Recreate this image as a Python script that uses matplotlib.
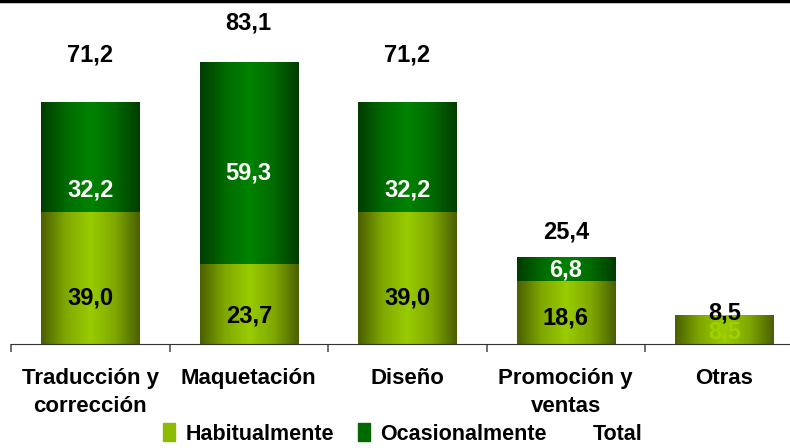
import numpy as np
import matplotlib
matplotlib.use("Agg")
import matplotlib.pyplot as plt
import matplotlib.colors as mcolors
import matplotlib.patches as mpatches
from matplotlib.lines import Line2D

plt.rcParams['font.family'] = ['Liberation Sans Narrow', 'Liberation Sans', 'DejaVu Sans']

categories = ["Traducción y\ncorrección", "Maquetación", "Diseño", "Promoción y\nventas", "Otras"]
habitual = [39.0, 23.7, 39.0, 18.6, 8.5]
ocasional = [32.2, 59.3, 32.2, 6.8, 0.0]
total = [71.2, 83.1, 71.2, 25.4, 8.5]
# label heights (data units), as placed in the original chart
hab_label_y = [13.6, 8.3, 13.6, 7.7, 3.6]
oca_label_y = [45.4, 50.4, 45.4, 21.8, None]
tot_label_y = [85.3, 94.7, 85.3, 33.0, 9.1]

def fmt(v):
    return f"{v:.1f}".replace(".", ",")

hab_cmap = mcolors.LinearSegmentedColormap.from_list("hab", ["#4b5f00", "#7fa800", "#99cc00", "#7fa800", "#4b5f00"])
oca_cmap = mcolors.LinearSegmentedColormap.from_list("oca", ["#003c00", "#006a00", "#008200", "#006a00", "#003c00"])
grad = np.linspace(0, 1, 256).reshape(1, -1)

def gbar(ax, x, bottom, height, width, cmap):
    if height <= 0:
        return
    ax.imshow(grad, extent=[x - width / 2, x + width / 2, bottom, bottom + height],
              aspect="auto", cmap=cmap, interpolation="bilinear", zorder=2)

fig = plt.figure(figsize=(7.9, 4.48), dpi=100)
ax = fig.add_axes([11 / 790, 1 - 344 / 448, 5 * 158.5 / 790, 344 / 448])
x = np.arange(len(categories))
w = 0.62
for i in x:
    gbar(ax, i, 0, habitual[i], w, hab_cmap)
    gbar(ax, i, habitual[i], ocasional[i], w, oca_cmap)

lab_kw = dict(ha="center", va="center", fontsize=17, fontweight="bold", zorder=5)
for i in x:
    col = "#9fd000" if ocasional[i] == 0 else "black"
    ax.text(i, hab_label_y[i], fmt(habitual[i]), color=col, **lab_kw)
    if oca_label_y[i] is not None:
        ax.text(i, oca_label_y[i], fmt(ocasional[i]), color="white", **lab_kw)
    ax.text(i, tot_label_y[i], fmt(total[i]), color="black", **lab_kw)

ax.set_xlim(-0.5, len(categories) - 0.5)
ax.set_ylim(0, 344 / 3.39)
for s in ["top", "right", "left"]:
    ax.spines[s].set_visible(False)
ax.spines["bottom"].set_color("#333333")
ax.set_yticks([])
ax.set_xticks(np.arange(len(categories) + 1) - 0.5)
ax.set_xticklabels([])
ax.set_xticks(x, minor=True)
ax.set_xticklabels(categories, minor=True, fontsize=16, fontweight="bold", linespacing=1.45)
ax.tick_params(axis="x", which="major", length=6, color="#555555", width=1.2)
ax.tick_params(axis="x", which="minor", length=0, pad=17)

# black frame line along the top edge
fig.add_artist(Line2D([0, 1], [0.997, 0.997], transform=fig.transFigure, color="black", linewidth=2.5))

h1 = mpatches.Patch(color="#8cbb00")
h2 = mpatches.Patch(color="#006a00")
h3 = mpatches.Patch(color="none")
fig.legend([h1, h2, h3], ["Habitualmente", "Ocasionalmente", "Total"], loc="lower center",
           bbox_to_anchor=(0.51, -0.036), ncol=3, frameon=False, handlelength=0.55, handleheight=0.9,
           handletextpad=0.5, columnspacing=1.1,
           prop=dict(family="Liberation Sans", size=15.5, weight="bold"))

fig.savefig("out.png", dpi=100)
